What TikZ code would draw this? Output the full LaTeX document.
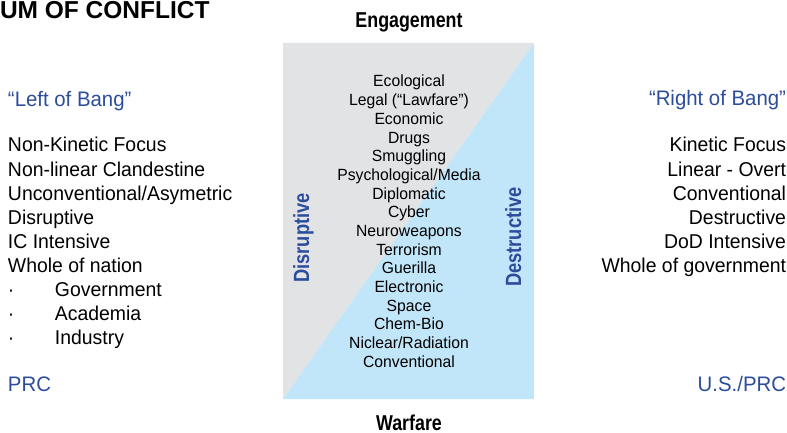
\documentclass[tikz,border=0pt]{standalone}
\usepackage{fontspec}
\setmainfont{Liberation Sans}[FakeStretch=0.97, BoldFeatures={FakeStretch=0.83}]
\newfontfamily\titlefont{Liberation Sans}
\usetikzlibrary{positioning}

\definecolor{bangblue}{HTML}{2C4C9C}
\definecolor{leftgray}{HTML}{E2E3E5}
\definecolor{rightblue}{HTML}{C2E6F9}

\tikzset{
  every node/.style={inner sep=0pt, outer sep=0pt},
  heading/.style={anchor=base, font=\bfseries\fontsize{21.5}{24}\selectfont},
  bang/.style={text=bangblue, font=\fontsize{21}{24}\selectfont},
  sideline/.style={font=\fontsize{20}{24}\selectfont},
  midline/.style={anchor=base, font=\fontsize{16.2}{18}\selectfont},
  sideword/.style={anchor=base, rotate=90, text=bangblue, font=\bfseries\fontsize{22}{24}\selectfont}
}

\begin{document}
\begin{tikzpicture}[x=1pt,y=-1pt]
  \useasboundingbox (0,0) rectangle (787,433);

  % the box, split on its diagonal
  \fill[leftgray] (283,43) -- (534,43) -- (283,399) -- cycle;
  \fill[rightblue] (534,43) -- (534,399) -- (283,399) -- cycle;

  \node[anchor=base west, font=\titlefont\bfseries\fontsize{24.5}{26}\selectfont] (title) at (0,19) {UM OF CONFLICT};

  \node[heading] (engage) at (409,28) {Engagement};
  \node[heading] (warfare) at (409,430) {Warfare};

  \node[sideword] (disrupt) at (309,238) {Disruptive};
  \node[sideword] (destruct) at (521,237) {Destructive};

  % forms of conflict, top to bottom
  \foreach \form [count=\i] in {Ecological, {Legal (“Lawfare”)}, Economic, Drugs, Smuggling,
      Psychological/Media, Diplomatic, Cyber, Neuroweapons, Terrorism, Guerilla,
      Electronic, Space, Chem-Bio, Niclear/Radiation, Conventional}
    \node[midline] (form\i) at (409,{87+18.67*(\i-1)}) {\form};

  % left side
  \node[bang, anchor=base west] (leftbang) at (8,107) {“Left of Bang”};
  \foreach \trait [count=\i] in {Non-Kinetic Focus, Non-linear Clandestine,
      Unconventional/Asymetric, Disruptive, IC Intensive, Whole of nation,
      {\makebox[47pt][l]{·}Government}, {\makebox[47pt][l]{·}Academia},
      {\makebox[47pt][l]{·}Industry}}
    \node[sideline, anchor=base west] (left\i) at (8,{152+24.1*(\i-1)}) {\trait};
  \node[bang, anchor=base west] (prc) at (8,391) {PRC};

  % right side
  \node[bang, anchor=base east] (rightbang) at (786,106) {“Right of Bang”};
  \foreach \trait [count=\i] in {Kinetic Focus, Linear - Overt, Conventional,
      Destructive, DoD Intensive, Whole of government}
    \node[sideline, anchor=base east] (right\i) at (786,{152+24.1*(\i-1)}) {\trait};
  \node[bang, anchor=base east] (usprc) at (786,391) {U.S./PRC};
\end{tikzpicture}
\end{document}
